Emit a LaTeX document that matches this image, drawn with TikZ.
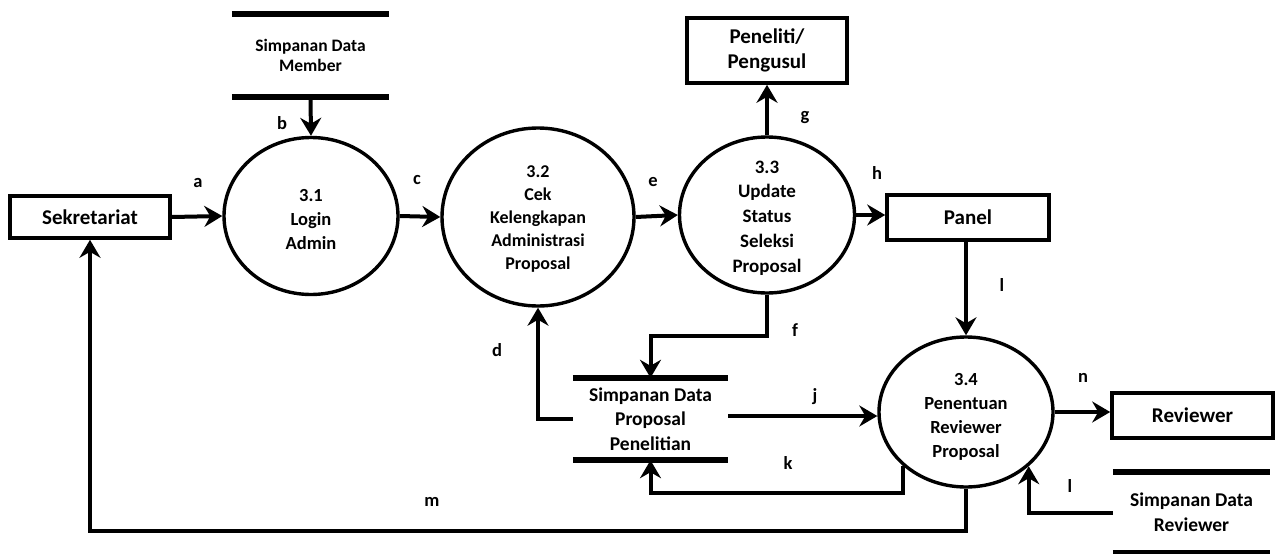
\documentclass[tikz,border=0pt]{standalone}
\usepackage{fontspec}
\setmainfont{Carlito}
\usetikzlibrary{shapes.geometric,arrows.meta}

\begin{document}
\begin{tikzpicture}[x=1pt,y=-1pt,
  every node/.style={font=\bfseries},
  ent/.style={draw,line width=3.6pt,rectangle,inner sep=0pt,font=\bfseries\fontsize{21}{25}\selectfont,align=center},
  proc/.style={draw,line width=3.4pt,ellipse,inner sep=0pt},
  ptext/.style={inner sep=0pt,align=center,font=\bfseries\fontsize{18.5}{24}\selectfont},
  store/.style={inner sep=0pt,align=center},
  storeline/.style={line width=5.5pt},
  flow/.style={line width=4pt,-{Stealth[length=18pt,width=21pt,inset=6pt]}},
  lbl/.style={inner sep=0pt,font=\bfseries\fontsize{18.5}{20}\selectfont}]
\useasboundingbox (0,0) rectangle (1277,554);

% external entities
\node[ent,minimum width=160pt,minimum height=42pt] (sek) at (90,217) {Sekretariat};
\node[ent,minimum width=160pt,minimum height=65pt] (pen) at (767,50.5) {Peneliti/\\Pengusul};
\node[ent,minimum width=162pt,minimum height=45pt] (panel) at (968,217.5) {Panel};
\node[ent,minimum width=161pt,minimum height=45pt] (rev) at (1192.5,415.5) {Reviewer};

% processes (outline, then the number and name set a little below centre)
\node[proc,minimum width=174pt,minimum height=157pt] (p1) at (311,216) {};
\node[proc,minimum width=192pt,minimum height=178pt] (p2) at (538,217) {};
\node[proc,minimum width=175pt,minimum height=156pt] (p3) at (767,215) {};
\node[proc,minimum width=174pt,minimum height=150pt] (p4) at (966,412) {};
\node[ptext] (t1) at ([yshift=-3.5pt]p1.center) {3.1\\Login\\Admin};
\node[ptext,font=\bfseries\fontsize{18}{23}\selectfont] (t2) at ([yshift=-2pt]p2.center) {3.2\\Cek\\Kelengkapan\\Administrasi\\Proposal};
\node[ptext,font=\bfseries\fontsize{19}{24.8}\selectfont] (t3) at ([yshift=-3pt]p3.center) {3.3\\Update\\Status\\Seleksi\\Proposal};
\node[ptext] (t4) at ([yshift=-5pt]p4.center) {3.4\\Penentuan\\Reviewer\\Proposal};

% data stores
\node[store,minimum width=157pt,minimum height=83pt,font=\bfseries\fontsize{17.5}{20.5}\selectfont] (sm) at (310.5,55.5) {Simpanan Data\\Member};
\node[store,minimum width=155pt,minimum height=82pt,font=\bfseries\fontsize{19.5}{24.5}\selectfont] (sp) at (650.5,419) {Simpanan Data\\Proposal\\Penelitian};
\node[store,minimum width=157pt,minimum height=81pt,font=\bfseries\fontsize{19.5}{25}\selectfont] (sr) at (1191.5,512.5) {Simpanan Data\\Reviewer};
\foreach \s in {sm,sp,sr}{
  \draw[storeline] (\s.north west) -- (\s.north east);
  \draw[storeline] (\s.south west) -- (\s.south east);
}

% levels of the routed flows
\coordinate (fy) at (0,336);
\coordinate (jy) at (0,416);
\coordinate (ky) at (0,493);
\coordinate (my) at (0,531);

% data flows
\draw[flow] (sek.east) -- (p1.west);
\draw[flow] (sm.south) -- (p1.north);
\draw[flow] (p1.east) -- (p2.west);
\draw[flow] (p2.east) -- (p3.west);
\draw[flow] (p3.north) -- (pen.south);
\draw[flow] (p3.east) -- (p3.east -| panel.west);
\draw[flow] (p4.north |- panel.south) -- (p4.north);
\draw[flow] (p3.south) -- (p3.south |- fy) -| (sp.north);
\draw[flow] (sp.west) -| (p2.south);
\draw[flow] (sp.east |- jy) -- (p4.west |- jy);
\draw[flow] (p4.south west) |- (sp.south |- ky) -- (sp.south);
\draw[flow] (p4.south) |- (sek.south |- my) -- (sek.south);
\draw[flow] (sr.west) -| (p4.south east);
\draw[flow] (p4.east) -- (p4.east -| rev.west);

% flow labels
\node[lbl] (la) at (198,183) {a};
\node[lbl] (lb) at (282,123) {b};
\node[lbl] (lc) at (417,180) {c};
\node[lbl] (ld) at (497,350) {d};
\node[lbl] (le) at (653,182) {e};
\node[lbl] (lf) at (795,330) {f};
\node[lbl] (lg) at (805,118) {g};
\node[lbl] (lh) at (877,173) {h};
\node[lbl] (li) at (1002,285) {l};
\node[lbl] (lj) at (815,397) {j};
\node[lbl] (lk) at (788,463) {k};
\node[lbl] (ll) at (1070,486) {l};
\node[lbl] (lm) at (432,502) {m};
\node[lbl] (ln) at (1083,378) {n};
\end{tikzpicture}
\end{document}
